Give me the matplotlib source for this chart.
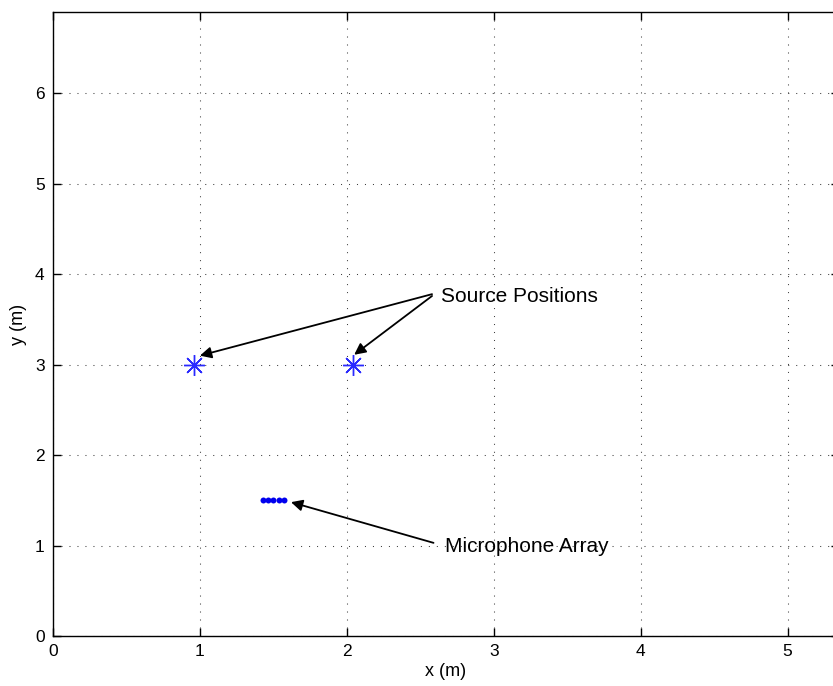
import matplotlib.pyplot as plt
from matplotlib.ticker import MultipleLocator

plt.rcParams['font.family'] = ['Liberation Sans', 'DejaVu Sans']
plt.rcParams['lines.scale_dashes'] = False

# source positions (m)
src_x = [0.96, 2.04]
src_y = [3.0, 3.0]

# microphone array elements (m)
mic_x = [1.43, 1.465, 1.50, 1.535, 1.57]
mic_y = [1.5, 1.5, 1.5, 1.5, 1.5]

room_w = 5.35
room_h = 6.9

fig = plt.figure(figsize=(8.33, 6.86), dpi=100)
W, H = 833, 686
# axes box in pixels: left 53, right 839, top 12, bottom 636
ax = fig.add_axes([53 / W, (H - 636) / H, (839 - 53) / W, (636 - 12) / H])

ax.plot(src_x, src_y, linestyle='none', marker=(8, 2, 0), markersize=15,
        markeredgewidth=1.0, color='#2a2aff')
ax.plot(mic_x, mic_y, linestyle='none', marker='o', markersize=4.3,
        color='#0000ee', markeredgewidth=0)

arrow = dict(arrowstyle='-|>', color='k', lw=1.3, mutation_scale=17,
             shrinkA=0, shrinkB=0)
ax.annotate('', xy=(1.00, 3.10), xytext=(2.58, 3.78), arrowprops=arrow)
ax.annotate('', xy=(2.05, 3.11), xytext=(2.58, 3.76), arrowprops=arrow)
ax.text(2.64, 3.75, 'Source Positions', fontsize=15, va='center', ha='left')

ax.annotate('', xy=(1.62, 1.48), xytext=(2.59, 1.03), arrowprops=arrow)
ax.text(2.67, 0.995, 'Microphone Array', fontsize=15, va='center', ha='left')

ax.set_xlim(0, room_w)
ax.set_ylim(0, room_h)
ax.xaxis.set_major_locator(MultipleLocator(1))
ax.yaxis.set_major_locator(MultipleLocator(1))
ax.grid(True, color='0.25', linestyle=(0, (0.75, 5.0)), linewidth=0.75)
ax.tick_params(direction='in', length=5.5, width=1.0, top=True, right=True,
               labelsize=12.5, pad=6)
for s in ax.spines.values():
    s.set_linewidth(1.0)

ax.set_xlabel('x (m)', fontsize=13, labelpad=3)
ax.set_ylabel('y (m)', fontsize=13, labelpad=6)

fig.savefig('out.png', dpi=100)
